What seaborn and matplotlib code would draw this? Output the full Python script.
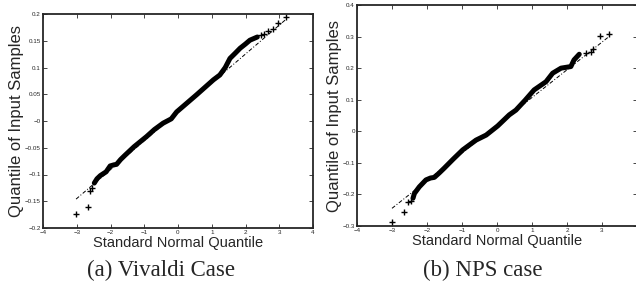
import numpy as np
import matplotlib
matplotlib.use("Agg")
from matplotlib import pyplot as plt
import seaborn as sns

# Vivaldi case: dense part of the QQ curve (theoretical quantile, sample quantile)
viv_dense_x = [-2.48, -2.40, -2.30, -2.13, -2.01, -1.90, -1.82, -1.70, -1.57, -1.30, -0.93, -0.70, -0.44,
               -0.20, -0.04, 0.20, 0.55, 0.80, 1.05, 1.24, 1.40, 1.54, 1.70, 1.84, 2.00, 2.13, 2.35]
viv_dense_y = [-0.116, -0.108, -0.102, -0.095, -0.084, -0.082, -0.081, -0.072, -0.064, -0.048, -0.029, -0.016, -0.004,
               0.004, 0.017, 0.030, 0.049, 0.063, 0.077, 0.086, 0.100, 0.117, 0.127, 0.136, 0.144, 0.151, 0.157]
# Vivaldi case: sparse tail points
viv_tail_x = [-3.02, -2.66, -2.61, -2.55, 2.45, 2.55, 2.68, 2.80, 2.97, 3.20]
viv_tail_y = [-0.173, -0.160, -0.131, -0.125, 0.160, 0.163, 0.168, 0.172, 0.184, 0.194]
viv_ref_x = [-3.02, 3.20]
viv_ref_y = [-0.146, 0.190]

# NPS case
nps_dense_x = [-2.40, -2.36, -2.22, -2.03, -1.90, -1.79, -1.65, -1.51, -1.25, -0.98, -0.60, -0.31, 0.02,
               0.35, 0.54, 0.80, 1.06, 1.40, 1.59, 1.83, 2.11, 2.20, 2.35]
nps_dense_y = [-0.212, -0.197, -0.176, -0.154, -0.148, -0.146, -0.132, -0.117, -0.088, -0.059, -0.028, -0.012, 0.017,
               0.052, 0.067, 0.098, 0.131, 0.157, 0.184, 0.200, 0.205, 0.226, 0.244]
nps_tail_x = [-3.00, -2.65, -2.55, -2.45, 2.55, 2.68, 2.75, 2.95, 3.20]
nps_tail_y = [-0.288, -0.257, -0.223, -0.220, 0.248, 0.252, 0.260, 0.303, 0.307]
nps_ref_x = [-3.00, 3.20]
nps_ref_y = [-0.244, 0.300]

captions = ["(a) Vivaldi Case", "(b) NPS case"]


def qqPanel(ax, dx, dy, tx, ty, rx, ry, ylim, ystep):
    sns.lineplot(x=rx, y=ry, ax=ax, color="black", lw=0.7, linestyle=(0, (4, 2, 1, 2)))
    sns.lineplot(x=dx, y=dy, ax=ax, color="black", lw=3.6, sort=False)
    sns.scatterplot(x=tx, y=ty, ax=ax, color="black", marker="+", s=18, linewidth=1.0)
    ax.set_xlim(-4, 4)
    ax.set_ylim(*ylim)
    ax.set_xticks(np.arange(-4, 5, 1))
    ax.set_yticks(np.round(np.arange(ylim[0], ylim[1] + 1e-9, ystep), 2))
    ax.set_yticklabels([("%g" % v).replace("-", "\u2212") for v in ax.get_yticks()])
    ax.tick_params(direction="in", top=True, right=True, labelsize=4.5, length=3, width=0.6, pad=1.5)
    for sp in ax.spines.values():
        sp.set_linewidth(1.3)
        sp.set_visible(True)
    ax.set_xlabel("Standard Normal Quantile", fontsize=10.5, labelpad=1)
    ax.set_ylabel("Quantile of Input Samples", fontsize=12)


if __name__ == '__main__':
    sns.set_style("ticks")
    plt.rcParams['font.family'] = ['Liberation Sans', 'DejaVu Sans']
    fig = plt.figure(figsize=(6.36, 2.87), dpi=100)
    ax1 = fig.add_axes([43 / 636, 1 - 228 / 287, 270 / 636, 214 / 287])
    ax2 = fig.add_axes([357 / 636, 1 - 226 / 287, 280 / 636, 221 / 287])

    qqPanel(ax1, viv_dense_x, viv_dense_y, viv_tail_x, viv_tail_y, viv_ref_x, viv_ref_y, (-0.2, 0.2), 0.05)
    qqPanel(ax2, nps_dense_x, nps_dense_y, nps_tail_x, nps_tail_y, nps_ref_x, nps_ref_y, (-0.3, 0.4), 0.1)
    ax1.yaxis.set_label_coords(-0.070, 0.5)
    ax2.yaxis.set_label_coords(-0.052, 0.5)
    # the last x tick label of the right panel falls outside the figure
    xl = ax2.get_xticklabels()
    xl[-1].set_visible(False)

    fig.text(87 / 636, 1 - 270 / 287, captions[0], ha="left", va="center", fontsize=16.5, family="Liberation Serif")
    fig.text(423 / 636, 1 - 270 / 287, captions[1], ha="left", va="center", fontsize=16.5, family="Liberation Serif")

    fig.savefig("out.png", dpi=100)
